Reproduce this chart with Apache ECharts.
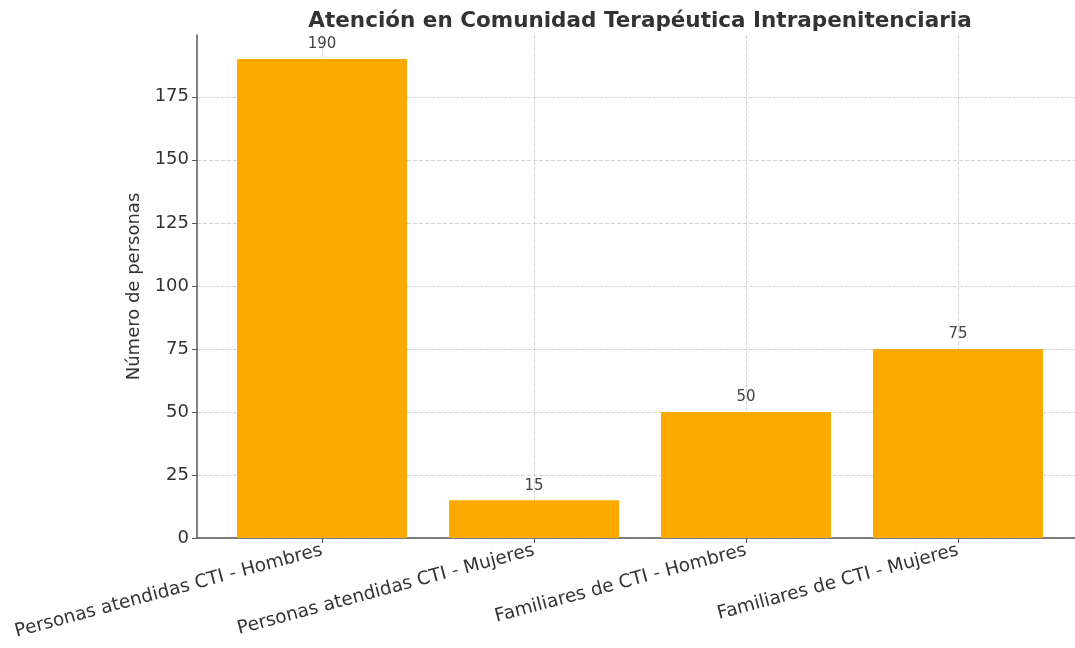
<!DOCTYPE html>
<html>
<head>
<meta charset="utf-8">
<script src="https://cdn.jsdelivr.net/npm/echarts@6/dist/echarts.min.js"></script>
<style>
	html, body { margin: 0; padding: 0; background: #fff; }
	#chart { width: 1075px; height: 648px; }
</style>
</head>
<body>
<div id="chart"></div>
<script>
// datos
const categories = [
	'Personas atendidas CTI - Hombres',
	'Personas atendidas CTI - Mujeres',
	'Familiares de CTI - Hombres',
	'Familiares de CTI - Mujeres'
]
const valores = [190, 15, 50, 75]
const posiciones = [0, 1, 2, 3]
const yTicks = [0, 25, 50, 75, 100, 125, 150, 175]

const font = 'DejaVu Sans'
const chart = echarts.init(document.getElementById('chart'))

chart.setOption({
	animation: false,
	textStyle: { fontFamily: font },
	title: {
		text: 'Atención en Comunidad Terapéutica Intrapenitenciaria',
		left: 635,
		textAlign: 'center',
		top: 5,
		textStyle: { fontSize: 21.5, fontWeight: 'bold', color: '#333', fontFamily: font }
	},
	grid: { left: 197, right: 0, top: 35, height: 503, containLabel: false },
	xAxis: {
		type: 'value',
		min: -0.59,
		max: 3.552,
		axisLine: { show: true, onZero: false, lineStyle: { color: '#555', width: 1.5 } },
		axisTick: { show: true, length: 5, customValues: posiciones, lineStyle: { color: '#555' } },
		axisLabel: {
			rotate: 15,
			fontSize: 18.5,
			color: '#333',
			margin: 12,
			customValues: posiciones,
			formatter: v => categories[Math.round(v)] || ''
		},
		splitLine: { show: true, lineStyle: { type: 'dashed', color: '#d4d4d4', width: 1 } }
	},
	yAxis: {
		type: 'value',
		min: 0,
		max: 199.5,
		interval: 25,
		name: 'Número de personas',
		nameLocation: 'middle',
		nameGap: 49,
		nameTextStyle: { fontSize: 18, color: '#333', fontFamily: font },
		axisLine: { show: true, onZero: false, lineStyle: { color: '#555', width: 1.5 } },
		axisTick: { show: true, length: 5, customValues: yTicks, lineStyle: { color: '#555' } },
		axisLabel: {
			fontSize: 18,
			color: '#333',
			margin: 8,
			customValues: yTicks
		},
		splitLine: { show: true, lineStyle: { type: 'dashed', color: '#d4d4d4', width: 1 } }
	},
	series: [{
		type: 'bar',
		barWidth: 170,
		data: posiciones.map((p, i) => [p, valores[i]]),
		itemStyle: { color: '#fcaa00' },
		label: {
			show: true,
			position: 'top',
			distance: 7,
			fontSize: 15,
			color: '#444',
			formatter: p => p.value[1]
		}
	}]
})
</script>
</body>
</html>
